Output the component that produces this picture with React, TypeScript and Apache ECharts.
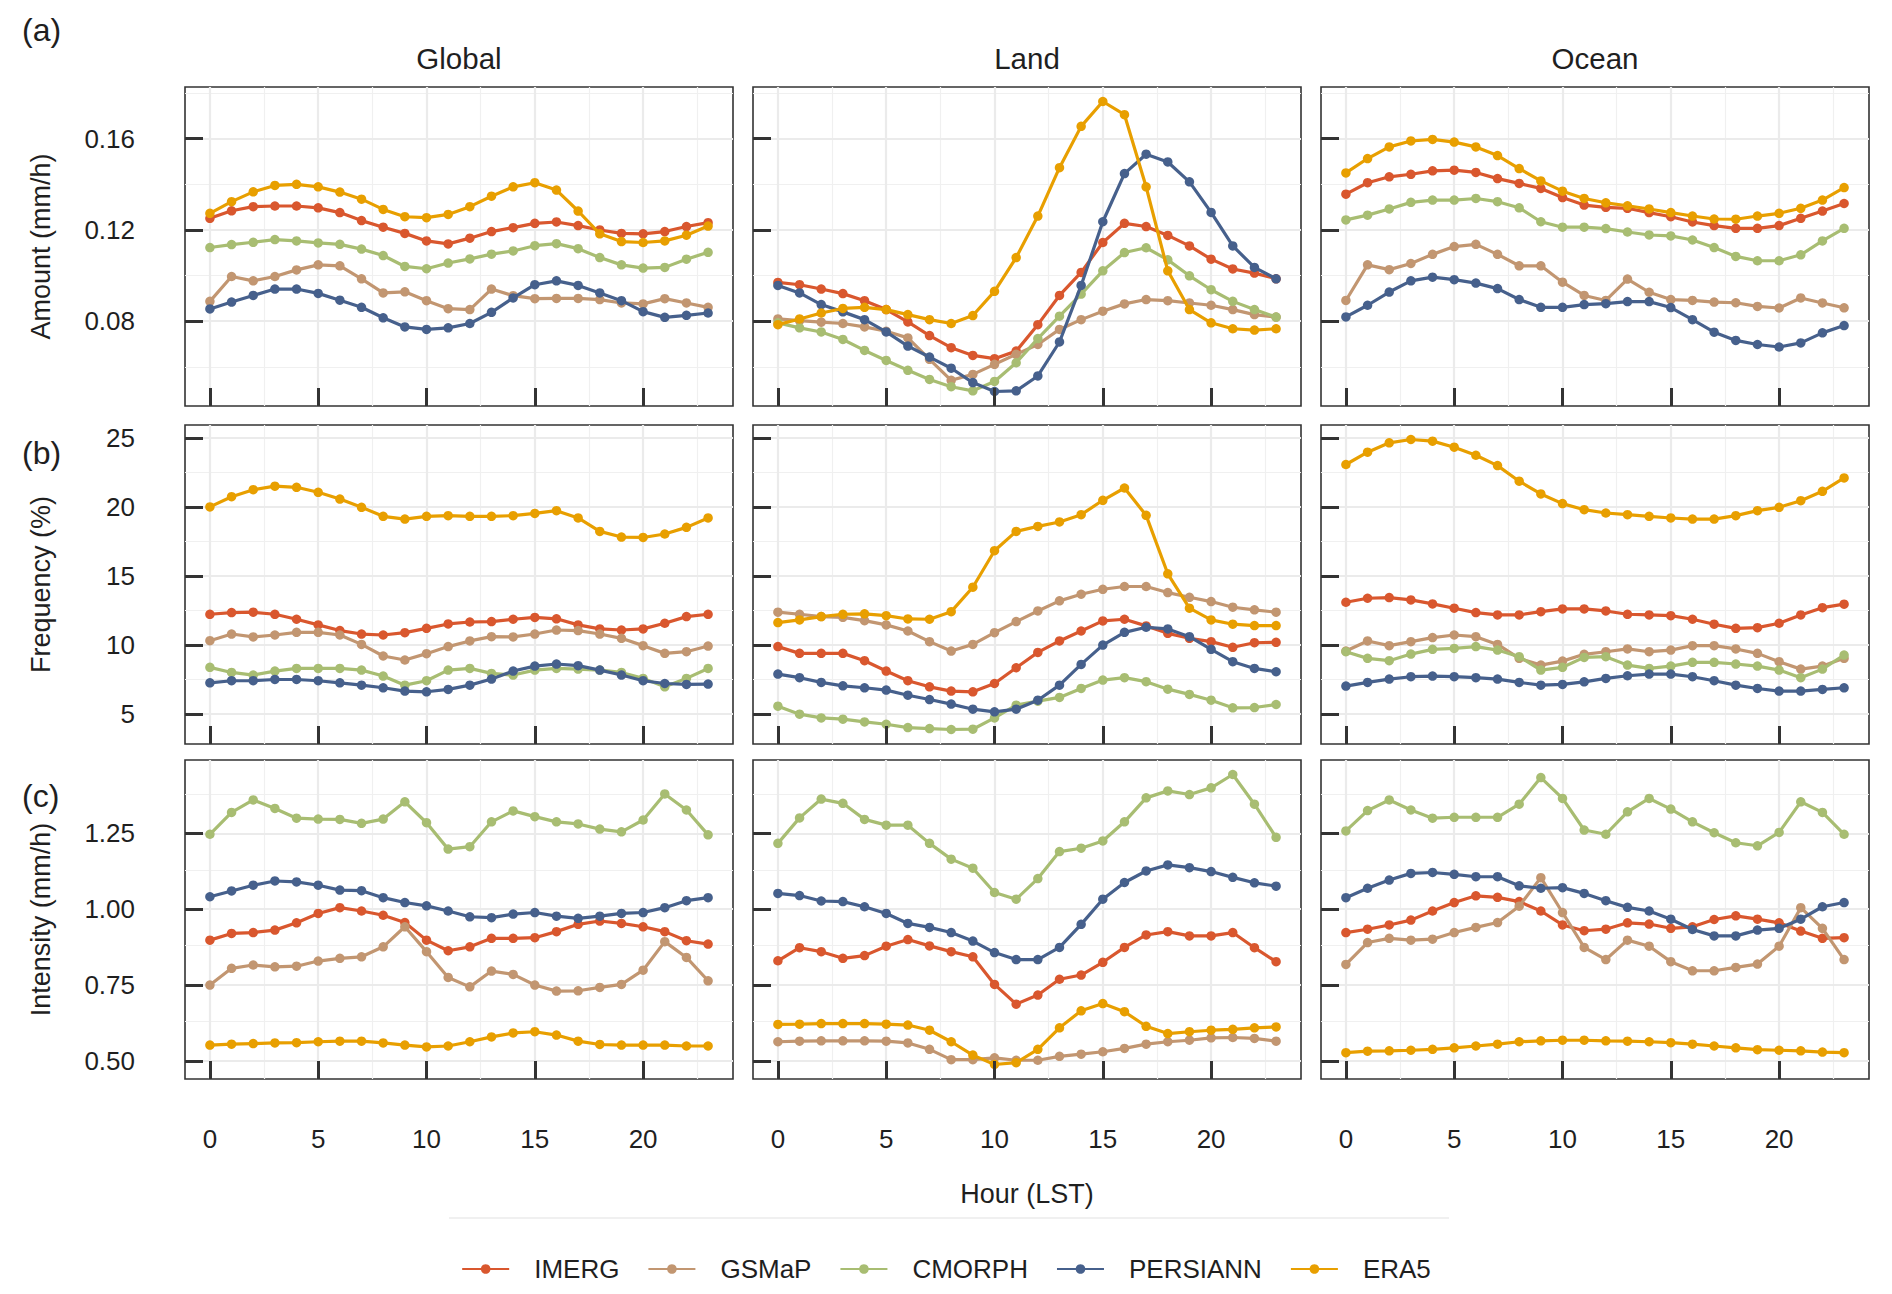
import React, { useEffect, useRef } from "react";
import * as echarts from "echarts";

const FONT = "Liberation Sans, Arial, Helvetica, sans-serif";
const HOURS = [0, 1, 2, 3, 4, 5, 6, 7, 8, 9, 10, 11, 12, 13, 14, 15, 16, 17, 18, 19, 20, 21, 22, 23];
const PRODUCTS = ["IMERG", "GSMaP", "CMORPH", "PERSIANN", "ERA5"];
const PRODUCT_COLORS = ["#D9572E", "#C29671", "#A8BD72", "#46608C", "#E89F00"];
const REGIONS = ["Global", "Land", "Ocean"];
const METRIC_TITLES = ["Amount (mm/h)", "Frequency (%)", "Intensity (mm/h)"];
const ROW_TAGS = ["(a)", "(b)", "(c)"];
const Y_MAJOR_TICKS = [[0.08, 0.12, 0.16], [5, 10, 15, 20, 25], [0.5, 0.75, 1.0, 1.25]];
const Y_MINOR_GRID = [[0.06, 0.1, 0.14, 0.18], [2.5, 7.5, 12.5, 17.5, 22.5], [0.625, 0.875, 1.125, 1.375]];
const Y_DECIMALS = [2, 0, 2];
const X_MAJOR_TICKS = [0, 5, 10, 15, 20];
const X_MINOR_GRID = [2.5, 7.5, 12.5, 17.5, 22.5];
const X_AXIS_TITLE = "Hour (LST)";

// ---- (a) Amount (mm/h) ----
const amountGlobalIMERG = [0.1251, 0.1284, 0.1302, 0.1305, 0.1305, 0.1297, 0.1276, 0.1241, 0.1212, 0.1185, 0.1152, 0.1139, 0.1164, 0.1193, 0.121, 0.1229, 0.1235, 0.1219, 0.12, 0.1185, 0.1183, 0.1193, 0.1215, 0.1232];
const amountGlobalGSMaP = [0.0887, 0.0996, 0.0977, 0.0996, 0.1025, 0.1047, 0.1043, 0.0986, 0.0924, 0.0929, 0.089, 0.0855, 0.0851, 0.0941, 0.0912, 0.0899, 0.09, 0.09, 0.0895, 0.088, 0.0876, 0.0899, 0.088, 0.0861];
const amountGlobalCMORPH = [0.1123, 0.1136, 0.1146, 0.1158, 0.1152, 0.1143, 0.1137, 0.1116, 0.1088, 0.104, 0.103, 0.1055, 0.1073, 0.1094, 0.1108, 0.1131, 0.114, 0.1118, 0.1079, 0.1047, 0.1033, 0.1036, 0.1072, 0.1102];
const amountGlobalPERSIANN = [0.0854, 0.0884, 0.0913, 0.0941, 0.0941, 0.0922, 0.0892, 0.0861, 0.0815, 0.0775, 0.0764, 0.0771, 0.079, 0.0839, 0.0902, 0.096, 0.0977, 0.0957, 0.0924, 0.089, 0.0842, 0.0817, 0.0826, 0.0836];
const amountGlobalERA5 = [0.1273, 0.1324, 0.1367, 0.1395, 0.14, 0.1389, 0.1366, 0.1335, 0.129, 0.1258, 0.1254, 0.1268, 0.1302, 0.1348, 0.1389, 0.1407, 0.1375, 0.1283, 0.1183, 0.1149, 0.1145, 0.1152, 0.1177, 0.1217];

const amountLandIMERG = [0.097, 0.096, 0.0941, 0.0921, 0.089, 0.0851, 0.0797, 0.0737, 0.0684, 0.065, 0.0636, 0.0669, 0.0785, 0.0913, 0.1014, 0.1145, 0.1229, 0.1215, 0.1176, 0.113, 0.1072, 0.1029, 0.1011, 0.0986];
const amountLandGSMaP = [0.081, 0.0803, 0.0796, 0.079, 0.0775, 0.0756, 0.0727, 0.0633, 0.0541, 0.0567, 0.0611, 0.0655, 0.0698, 0.0764, 0.0807, 0.0844, 0.0876, 0.0895, 0.089, 0.088, 0.087, 0.0851, 0.0829, 0.0818];
const amountLandCMORPH = [0.0793, 0.0771, 0.0753, 0.072, 0.0672, 0.0628, 0.0585, 0.0545, 0.0513, 0.0495, 0.0536, 0.0618, 0.0724, 0.0822, 0.0919, 0.1021, 0.1101, 0.1122, 0.1069, 0.0999, 0.0938, 0.0887, 0.0851, 0.0818];
const amountLandPERSIANN = [0.0957, 0.0924, 0.0873, 0.0841, 0.0807, 0.0753, 0.0691, 0.0643, 0.0594, 0.0531, 0.0492, 0.0495, 0.056, 0.0709, 0.0957, 0.1236, 0.1447, 0.1532, 0.1498, 0.1411, 0.1277, 0.113, 0.1036, 0.0986];
const amountLandERA5 = [0.0785, 0.081, 0.0836, 0.0856, 0.0861, 0.0851, 0.0829, 0.0807, 0.079, 0.0825, 0.0931, 0.1079, 0.1261, 0.1473, 0.1654, 0.1763, 0.1705, 0.1389, 0.1021, 0.0851, 0.0793, 0.0767, 0.0761, 0.0767];

const amountOceanIMERG = [0.1357, 0.1407, 0.1433, 0.1444, 0.1459, 0.1462, 0.1452, 0.1425, 0.1404, 0.1382, 0.1342, 0.1309, 0.1299, 0.1295, 0.1276, 0.1258, 0.1235, 0.1219, 0.1207, 0.1207, 0.1219, 0.1251, 0.1283, 0.1316];
const amountOceanGSMaP = [0.0891, 0.1047, 0.1026, 0.1053, 0.1093, 0.1127, 0.1137, 0.1093, 0.1043, 0.1043, 0.0971, 0.0913, 0.0891, 0.0985, 0.0927, 0.0895, 0.0891, 0.0884, 0.0881, 0.0865, 0.0858, 0.0902, 0.088, 0.0859];
const amountOceanCMORPH = [0.1244, 0.1265, 0.1292, 0.1321, 0.1331, 0.1331, 0.1338, 0.1324, 0.1297, 0.1236, 0.1212, 0.1212, 0.1206, 0.1191, 0.1178, 0.1174, 0.1156, 0.1123, 0.1084, 0.1065, 0.1065, 0.1091, 0.1152, 0.1207];
const amountOceanPERSIANN = [0.0819, 0.087, 0.0928, 0.0977, 0.0993, 0.0982, 0.0967, 0.0943, 0.0895, 0.0861, 0.0861, 0.0873, 0.0877, 0.0886, 0.0886, 0.086, 0.0807, 0.0752, 0.0716, 0.0698, 0.0687, 0.0705, 0.0749, 0.0781];
const amountOceanERA5 = [0.145, 0.1513, 0.1564, 0.159, 0.1597, 0.1585, 0.1564, 0.1526, 0.1469, 0.1415, 0.137, 0.1338, 0.1319, 0.1306, 0.1292, 0.1276, 0.1261, 0.1248, 0.1247, 0.1261, 0.1273, 0.1295, 0.1331, 0.1386];

// ---- (b) Frequency (%) ----
const freqGlobalIMERG = [12.23, 12.35, 12.38, 12.23, 11.87, 11.46, 11.05, 10.8, 10.73, 10.9, 11.21, 11.53, 11.67, 11.7, 11.87, 12.0, 11.9, 11.46, 11.17, 11.09, 11.17, 11.58, 12.06, 12.23];
const freqGlobalGSMaP = [10.32, 10.8, 10.59, 10.73, 10.92, 10.92, 10.73, 10.05, 9.21, 8.92, 9.38, 9.89, 10.3, 10.61, 10.59, 10.8, 11.09, 11.05, 10.8, 10.49, 9.96, 9.4, 9.52, 9.93];
const freqGlobalCMORPH = [8.39, 8.02, 7.83, 8.12, 8.31, 8.31, 8.31, 8.19, 7.76, 7.1, 7.42, 8.19, 8.31, 7.95, 7.83, 8.19, 8.31, 8.26, 8.19, 8.02, 7.59, 6.98, 7.59, 8.31];
const freqGlobalPERSIANN = [7.27, 7.42, 7.42, 7.51, 7.51, 7.42, 7.27, 7.1, 6.91, 6.67, 6.62, 6.79, 7.1, 7.54, 8.12, 8.48, 8.63, 8.51, 8.19, 7.83, 7.42, 7.22, 7.15, 7.18];
const freqGlobalERA5 = [20.0, 20.74, 21.25, 21.5, 21.42, 21.06, 20.57, 19.97, 19.32, 19.12, 19.32, 19.37, 19.32, 19.32, 19.37, 19.53, 19.73, 19.2, 18.23, 17.82, 17.79, 18.04, 18.52, 19.2];

const freqLandIMERG = [9.89, 9.4, 9.4, 9.4, 8.87, 8.12, 7.42, 6.98, 6.67, 6.62, 7.22, 8.36, 9.47, 10.3, 11.02, 11.75, 11.87, 11.39, 10.85, 10.49, 10.25, 9.84, 10.17, 10.2];
const freqLandGSMaP = [12.38, 12.23, 12.06, 12.01, 11.77, 11.46, 11.02, 10.25, 9.57, 10.05, 10.9, 11.7, 12.47, 13.2, 13.68, 14.04, 14.24, 14.24, 13.8, 13.46, 13.15, 12.74, 12.55, 12.38];
const freqLandCMORPH = [5.58, 5.0, 4.73, 4.64, 4.44, 4.27, 4.03, 3.96, 3.89, 3.91, 4.73, 5.65, 5.94, 6.21, 6.86, 7.47, 7.64, 7.35, 6.81, 6.43, 6.01, 5.46, 5.48, 5.7];
const freqLandPERSIANN = [7.9, 7.64, 7.3, 7.05, 6.91, 6.74, 6.37, 6.06, 5.73, 5.36, 5.17, 5.36, 6.01, 7.1, 8.6, 10.0, 10.92, 11.29, 11.17, 10.61, 9.69, 8.8, 8.31, 8.07];
const freqLandERA5 = [11.63, 11.82, 12.06, 12.23, 12.26, 12.13, 11.89, 11.87, 12.42, 14.19, 16.83, 18.23, 18.59, 18.91, 19.44, 20.48, 21.37, 19.39, 15.16, 12.67, 11.82, 11.51, 11.41, 11.41];

const freqOceanIMERG = [13.1, 13.39, 13.44, 13.27, 12.98, 12.67, 12.35, 12.18, 12.18, 12.42, 12.62, 12.62, 12.47, 12.23, 12.18, 12.13, 11.87, 11.51, 11.21, 11.26, 11.58, 12.18, 12.71, 12.96];
const freqOceanGSMaP = [9.57, 10.3, 9.96, 10.25, 10.54, 10.73, 10.61, 10.05, 9.04, 8.55, 8.84, 9.33, 9.52, 9.72, 9.52, 9.64, 9.96, 9.96, 9.72, 9.4, 8.8, 8.26, 8.48, 9.04];
const freqOceanCMORPH = [9.52, 9.04, 8.87, 9.35, 9.69, 9.76, 9.89, 9.64, 9.16, 8.19, 8.39, 9.11, 9.16, 8.55, 8.31, 8.48, 8.75, 8.75, 8.63, 8.48, 8.19, 7.64, 8.26, 9.28];
const freqOceanPERSIANN = [7.03, 7.3, 7.54, 7.71, 7.76, 7.71, 7.64, 7.54, 7.3, 7.1, 7.15, 7.34, 7.59, 7.78, 7.9, 7.9, 7.71, 7.42, 7.1, 6.86, 6.67, 6.67, 6.79, 6.91];
const freqOceanERA5 = [23.07, 23.96, 24.64, 24.88, 24.76, 24.32, 23.74, 22.99, 21.86, 20.94, 20.24, 19.8, 19.56, 19.44, 19.32, 19.2, 19.12, 19.12, 19.37, 19.73, 19.97, 20.45, 21.13, 22.1];

// ---- (c) Intensity (mm/h) ----
const intGlobalIMERG = [0.898, 0.92, 0.923, 0.931, 0.955, 0.986, 1.005, 0.994, 0.98, 0.956, 0.898, 0.863, 0.876, 0.904, 0.904, 0.906, 0.926, 0.95, 0.961, 0.953, 0.942, 0.926, 0.896, 0.885];
const intGlobalGSMaP = [0.75, 0.805, 0.816, 0.81, 0.812, 0.829, 0.838, 0.843, 0.876, 0.942, 0.86, 0.775, 0.744, 0.796, 0.785, 0.75, 0.73, 0.731, 0.742, 0.752, 0.799, 0.893, 0.841, 0.764];
const intGlobalCMORPH = [1.247, 1.319, 1.36, 1.332, 1.3, 1.297, 1.296, 1.283, 1.297, 1.354, 1.285, 1.198, 1.206, 1.288, 1.324, 1.305, 1.288, 1.281, 1.264, 1.255, 1.294, 1.38, 1.327, 1.245];
const intGlobalPERSIANN = [1.041, 1.06, 1.079, 1.093, 1.09, 1.079, 1.063, 1.061, 1.038, 1.022, 1.011, 0.994, 0.975, 0.972, 0.984, 0.989, 0.977, 0.97, 0.977, 0.986, 0.989, 1.005, 1.028, 1.038];
const intGlobalERA5 = [0.552, 0.555, 0.557, 0.559, 0.56, 0.563, 0.565, 0.565, 0.559, 0.552, 0.546, 0.549, 0.563, 0.579, 0.592, 0.596, 0.585, 0.565, 0.554, 0.552, 0.552, 0.552, 0.549, 0.549];

const intLandIMERG = [0.83, 0.873, 0.86, 0.838, 0.847, 0.878, 0.9, 0.879, 0.86, 0.843, 0.752, 0.687, 0.717, 0.769, 0.783, 0.825, 0.874, 0.915, 0.926, 0.912, 0.912, 0.923, 0.873, 0.827];
const intLandGSMaP = [0.563, 0.565, 0.566, 0.566, 0.566, 0.565, 0.559, 0.538, 0.504, 0.504, 0.51, 0.502, 0.502, 0.515, 0.522, 0.53, 0.541, 0.555, 0.563, 0.568, 0.576, 0.577, 0.574, 0.565];
const intLandCMORPH = [1.217, 1.301, 1.363, 1.349, 1.296, 1.277, 1.277, 1.217, 1.165, 1.135, 1.055, 1.033, 1.101, 1.19, 1.201, 1.225, 1.288, 1.367, 1.39, 1.378, 1.4, 1.444, 1.346, 1.237];
const intLandPERSIANN = [1.052, 1.045, 1.027, 1.025, 1.008, 0.986, 0.953, 0.94, 0.923, 0.895, 0.857, 0.834, 0.834, 0.874, 0.95, 1.033, 1.088, 1.126, 1.146, 1.137, 1.124, 1.105, 1.087, 1.076];
const intLandERA5 = [0.62, 0.621, 0.623, 0.623, 0.623, 0.621, 0.618, 0.601, 0.563, 0.519, 0.488, 0.494, 0.538, 0.609, 0.665, 0.689, 0.662, 0.614, 0.59, 0.596, 0.601, 0.604, 0.609, 0.612];

const intOceanIMERG = [0.923, 0.934, 0.948, 0.964, 0.994, 1.022, 1.044, 1.039, 1.025, 0.994, 0.948, 0.929, 0.934, 0.955, 0.951, 0.937, 0.942, 0.966, 0.978, 0.967, 0.955, 0.928, 0.904, 0.906];
const intOceanGSMaP = [0.818, 0.89, 0.904, 0.898, 0.901, 0.923, 0.94, 0.956, 1.01, 1.104, 0.989, 0.874, 0.834, 0.898, 0.878, 0.827, 0.797, 0.797, 0.808, 0.819, 0.878, 1.005, 0.937, 0.834];
const intOceanCMORPH = [1.258, 1.325, 1.36, 1.327, 1.3, 1.303, 1.303, 1.303, 1.346, 1.434, 1.365, 1.261, 1.247, 1.321, 1.365, 1.33, 1.288, 1.252, 1.219, 1.209, 1.253, 1.354, 1.319, 1.247];
const intOceanPERSIANN = [1.038, 1.069, 1.096, 1.118, 1.121, 1.115, 1.107, 1.107, 1.077, 1.069, 1.071, 1.052, 1.028, 1.006, 0.994, 0.967, 0.933, 0.912, 0.912, 0.931, 0.937, 0.967, 1.008, 1.022];
const intOceanERA5 = [0.527, 0.532, 0.533, 0.535, 0.538, 0.543, 0.549, 0.555, 0.563, 0.566, 0.568, 0.568, 0.566, 0.565, 0.563, 0.56, 0.555, 0.549, 0.543, 0.537, 0.535, 0.533, 0.529, 0.527];

const PANEL_DATA = [
  [
    [amountGlobalIMERG, amountGlobalGSMaP, amountGlobalCMORPH, amountGlobalPERSIANN, amountGlobalERA5],
    [amountLandIMERG, amountLandGSMaP, amountLandCMORPH, amountLandPERSIANN, amountLandERA5],
    [amountOceanIMERG, amountOceanGSMaP, amountOceanCMORPH, amountOceanPERSIANN, amountOceanERA5],
  ],
  [
    [freqGlobalIMERG, freqGlobalGSMaP, freqGlobalCMORPH, freqGlobalPERSIANN, freqGlobalERA5],
    [freqLandIMERG, freqLandGSMaP, freqLandCMORPH, freqLandPERSIANN, freqLandERA5],
    [freqOceanIMERG, freqOceanGSMaP, freqOceanCMORPH, freqOceanPERSIANN, freqOceanERA5],
  ],
  [
    [intGlobalIMERG, intGlobalGSMaP, intGlobalCMORPH, intGlobalPERSIANN, intGlobalERA5],
    [intLandIMERG, intLandGSMaP, intLandCMORPH, intLandPERSIANN, intLandERA5],
    [intOceanIMERG, intOceanGSMaP, intOceanCMORPH, intOceanPERSIANN, intOceanERA5],
  ],
];

// ---- layout ----
const PANEL_LEFTS = [185, 753, 1321];
const PANEL_TOPS = [87, 425, 760];
const PANEL_W = 548;
const PANEL_H = 319;
const TEXT_COLOR = "#1f1f1f";
const MAJOR_GRID = { color: "#EBEBEB", width: 2.2, type: "solid" as const };
const MINOR_GRID = { color: "#F0F0F0", width: 1.2, type: "solid" as const };

function buildOption() {
  const hourSpan = HOURS[HOURS.length - 1] - HOURS[0];
  const xMin = HOURS[0] - 0.05 * hourSpan;
  const xMax = HOURS[HOURS.length - 1] + 0.05 * hourSpan;

  const grids: any[] = [];
  const xAxes: any[] = [];
  const yAxes: any[] = [];
  const series: any[] = [];

  PANEL_DATA.forEach((rowData, r) => {
    let lo = Infinity;
    let hi = -Infinity;
    rowData.forEach((panel) => panel.forEach((arr) => arr.forEach((v) => { lo = Math.min(lo, v); hi = Math.max(hi, v); })));
    const pad = 0.05 * (hi - lo);
    const yMin = lo - pad;
    const yMax = hi + pad;

    rowData.forEach((panel, c) => {
      const idx = r * 3 + c;
      grids.push({
        left: PANEL_LEFTS[c], top: PANEL_TOPS[r], width: PANEL_W, height: PANEL_H,
        show: true, borderColor: "#333333", borderWidth: 1.6, backgroundColor: "#ffffff",
        containLabel: false, outerBoundsMode: "none",
      });
      xAxes.push({
        type: "value", gridIndex: idx, min: xMin, max: xMax, z: 10, position: "bottom",
        axisLine: { show: false, onZero: false }, splitLine: { show: false },
        axisTick: { show: true, inside: true, length: 18, customValues: X_MAJOR_TICKS, lineStyle: { color: "#333333", width: 3 } },
        axisLabel: {
          show: r === 2, customValues: X_MAJOR_TICKS, margin: 47, fontSize: 26, color: TEXT_COLOR, fontFamily: FONT,
          formatter: (v: number) => String(v),
        },
      });
      yAxes.push({
        type: "value", gridIndex: idx, min: yMin, max: yMax, z: 10, position: "left",
        axisLine: { show: false, onZero: false }, splitLine: { show: false },
        axisTick: { show: true, inside: true, length: 18, customValues: Y_MAJOR_TICKS[r], lineStyle: { color: "#333333", width: 3 } },
        axisLabel: {
          show: c === 0, customValues: Y_MAJOR_TICKS[r], margin: 50, fontSize: 26, color: TEXT_COLOR, fontFamily: FONT,
          formatter: (v: number) => v.toFixed(Y_DECIMALS[r]),
        },
      });

      const gridLines: any[] = [];
      X_MINOR_GRID.forEach((v) => gridLines.push({ xAxis: v, lineStyle: MINOR_GRID }));
      Y_MINOR_GRID[r].filter((v) => v > yMin && v < yMax).forEach((v) => gridLines.push({ yAxis: v, lineStyle: MINOR_GRID }));
      X_MAJOR_TICKS.forEach((v) => gridLines.push({ xAxis: v, lineStyle: MAJOR_GRID }));
      Y_MAJOR_TICKS[r].filter((v) => v > yMin && v < yMax).forEach((v) => gridLines.push({ yAxis: v, lineStyle: MAJOR_GRID }));

      series.push({
        type: "line", xAxisIndex: idx, yAxisIndex: idx, data: [], silent: true, z: 1,
        markLine: {
          silent: true, symbol: ["none", "none"], label: { show: false }, animation: false, z: 1,
          emphasis: { disabled: true }, data: gridLines,
        },
      });

      PRODUCTS.forEach((name, k) => {
        series.push({
          type: "line", name, xAxisIndex: idx, yAxisIndex: idx, z: 3 + k,
          data: HOURS.map((h, i) => [h, panel[k][i]]),
          symbol: "circle", symbolSize: 9.5, showSymbol: true, showAllSymbol: true,
          lineStyle: { width: 3.2, color: PRODUCT_COLORS[k] },
          itemStyle: { color: PRODUCT_COLORS[k] },
          emphasis: { disabled: true }, silent: true, clip: false,
        });
      });
    });
  });

  const graphics: any[] = [];
  REGIONS.forEach((name, c) => {
    graphics.push({
      type: "text", x: PANEL_LEFTS[c] + PANEL_W / 2, y: 58, silent: true,
      style: { text: name, fontSize: 29.5, fontFamily: FONT, fill: TEXT_COLOR, textAlign: "center", textVerticalAlign: "middle" },
    });
  });
  const tagYs = [30, 453, 796];
  ROW_TAGS.forEach((tag, r) => {
    graphics.push({
      type: "text", x: 22, y: tagYs[r], silent: true,
      style: { text: tag, fontSize: 32, fontFamily: FONT, fill: TEXT_COLOR, textAlign: "left", textVerticalAlign: "middle" },
    });
  });
  METRIC_TITLES.forEach((t, r) => {
    graphics.push({
      type: "text", x: 41, y: PANEL_TOPS[r] + PANEL_H / 2, rotation: Math.PI / 2, silent: true,
      style: { text: t, fontSize: 27, fontFamily: FONT, fill: TEXT_COLOR, textAlign: "center", textVerticalAlign: "middle" },
    });
  });
  graphics.push({
    type: "text", x: PANEL_LEFTS[1] + PANEL_W / 2, y: 1194, silent: true,
    style: { text: X_AXIS_TITLE, fontSize: 27, fontFamily: FONT, fill: TEXT_COLOR, textAlign: "center", textVerticalAlign: "middle" },
  });
  graphics.push({
    type: "line", silent: true,
    shape: { x1: 449, y1: 1218, x2: 1449, y2: 1218 },
    style: { stroke: "#F0F0F0", lineWidth: 2 },
  });

  return {
    animation: false,
    backgroundColor: "#ffffff",
    grid: grids,
    xAxis: xAxes,
    yAxis: yAxes,
    series,
    legend: {
      data: PRODUCTS, left: "center", top: 1251, orient: "horizontal",
      itemWidth: 47, itemHeight: 12, itemGap: 28, selectedMode: false,
      textStyle: { fontSize: 26, fontFamily: FONT, color: TEXT_COLOR, padding: [0, 0, 0, 20] },
    },
    graphic: { elements: graphics },
  };
}

export default function App() {
  const ref = useRef<HTMLDivElement>(null);
  useEffect(() => {
    if (!ref.current) return;
    const chart = echarts.init(ref.current, undefined, { renderer: "svg" });
    chart.setOption(buildOption() as any);
    return () => chart.dispose();
  }, []);
  return (
    <div
      ref={ref}
      style={{ position: "absolute", left: 0, top: 0, width: 1892, height: 1294, background: "#ffffff" }}
    />
  );
}
